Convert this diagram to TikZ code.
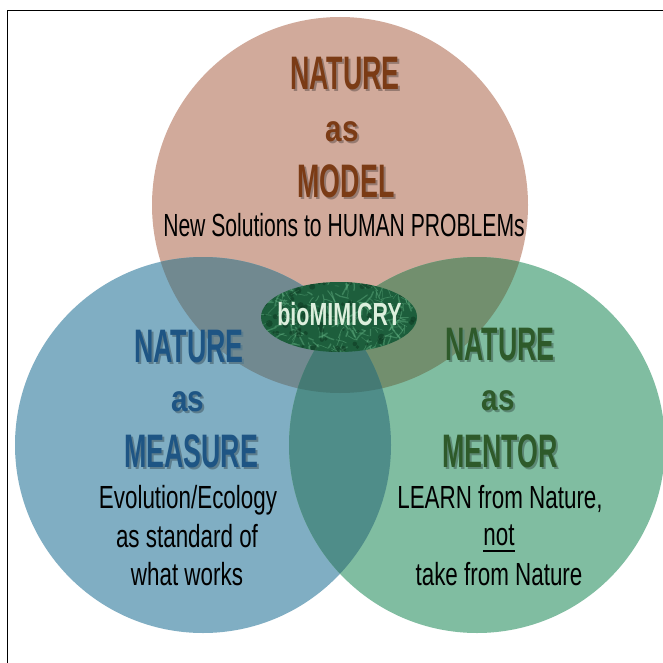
\documentclass[tikz,border=0pt]{standalone}
\usepackage{fontspec}
\usetikzlibrary{shapes.geometric}
\setmainfont{Liberation Sans}
\newfontfamily\headfont{Liberation Sans}[FakeStretch=0.57]
\newfontfamily\smallheadfont{Liberation Sans}[FakeStretch=0.8]
\newfontfamily\bodyfont{Liberation Sans}[FakeStretch=0.7]
\newfontfamily\narrowbodyfont{Liberation Sans}[FakeStretch=0.66]
\newfontfamily\badgefont{Liberation Sans}[FakeStretch=0.67]

% circle fills and their overlaps
\definecolor{modelfill}{HTML}{D1AA9B}
\definecolor{measurefill}{HTML}{80AEC3}
\definecolor{mentorfill}{HTML}{80BDA1}
\definecolor{modelmeasure}{HTML}{718990}
\definecolor{modelmentor}{HTML}{728F6E}
\definecolor{measurementor}{HTML}{4F8D89}
\definecolor{allthree}{HTML}{457A74}
% heading colours
\definecolor{modelhead}{HTML}{7B3B15}
\definecolor{measurehead}{HTML}{1E5584}
\definecolor{mentorhead}{HTML}{2E5A2A}
% badge
\definecolor{badgefill}{HTML}{1D5E3C}
\definecolor{badgevein}{HTML}{62B283}
\definecolor{badgedark}{HTML}{0C351F}
\definecolor{badgetext}{HTML}{DDEFDD}

\tikzset{
  headtext/.style={anchor=base, inner sep=0pt, font=\headfont\bfseries\fontsize{47}{47}\selectfont},
  astext/.style={anchor=base, inner sep=0pt, font=\smallheadfont\bfseries\fontsize{37}{37}\selectfont},
  bodytext/.style={anchor=base, inner sep=0pt, text=black, font=\bodyfont\fontsize{32}{32}\selectfont},
}

% heading word set over its own soft drop shadow, as one box
\newcommand\shadowed[3]{%
  \makebox[0pt][l]{\hspace{2pt}\raisebox{-2pt}{\color{#2}#3}}{\color{#1}#3}}

\begin{document}
\begin{tikzpicture}[x=1pt,y=-1pt]
\useasboundingbox (0,0) rectangle (663,663);
\fill[white] (0,0) rectangle (663,663);

% circle centres
\coordinate (cModel) at (340,205);
\coordinate (cMeasure) at (203,445);
\coordinate (cMentor) at (477,445);
\def\rad{188pt}

% the three discs
\fill[modelfill] (cModel) circle[radius=\rad];
\fill[measurefill] (cMeasure) circle[radius=\rad];
\fill[mentorfill] (cMentor) circle[radius=\rad];

% pairwise overlaps
\begin{scope}
  \clip (cModel) circle[radius=\rad];
  \fill[modelmeasure] (cMeasure) circle[radius=\rad];
  \fill[modelmentor] (cMentor) circle[radius=\rad];
\end{scope}
\begin{scope}
  \clip (cMeasure) circle[radius=\rad];
  \fill[measurementor] (cMentor) circle[radius=\rad];
  \clip (cModel) circle[radius=\rad];
  \fill[allthree] (cMentor) circle[radius=\rad];
\end{scope}

% frame
\coordinate (frameBL) at (7.5,663);
\coordinate (frameTL) at (7.5,10.5);
\coordinate (frameTR) at (663,10.5);
\draw[line width=1.6pt] (frameBL) -- (frameTL) -- (frameTR);

% top circle text
\node[headtext] (modelA) at (345,90) {\shadowed{modelhead}{modelfill!72!black}{NATURE}};
\node[astext] (modelB) at (342,142) {\shadowed{modelhead}{modelfill!72!black}{as}};
\node[headtext] (modelC) at (346,197) {\shadowed{modelhead}{modelfill!72!black}{MODEL}};
\node[bodytext, font=\narrowbodyfont\fontsize{32}{32}\selectfont] (modelD) at (344,236) {New Solutions to HUMAN PROBLEMs};

% left circle text
\node[headtext] (measureA) at (189,362) {\shadowed{measurehead}{measurefill!72!black}{NATURE}};
\node[astext] (measureB) at (188,411) {\shadowed{measurehead}{measurefill!72!black}{as}};
\node[headtext] (measureC) at (191,467) {\shadowed{measurehead}{measurefill!72!black}{MEASURE}};
\node[bodytext] (measureD) at (188,508) {Evolution/Ecology};
\node[bodytext] (measureE) at (187,547) {as standard of};
\node[bodytext] (measureF) at (187,585) {what works};

% right circle text
\node[headtext] (mentorA) at (500,360) {\shadowed{mentorhead}{mentorfill!72!black}{NATURE}};
\node[astext] (mentorB) at (498,410) {\shadowed{mentorhead}{mentorfill!72!black}{as}};
\node[headtext] (mentorC) at (500,467) {\shadowed{mentorhead}{mentorfill!72!black}{MENTOR}};
\node[bodytext] (mentorD) at (500,508) {LEARN from Nature,};
\node[bodytext] (mentorE) at (499,545) {not};
\draw[line width=1.3pt] (mentorE.base west) ++(0,6) coordinate (ulA) -- (mentorE.base east |- ulA);
\node[bodytext] (mentorF) at (499,585) {take from Nature};

% central marbled badge
\node[ellipse, minimum width=156pt, minimum height=70pt, inner sep=0pt, fill=badgefill] (badge) at (339,317) {};
\begin{scope}
  \clip (339,317) ellipse[x radius=78pt, y radius=35pt];
  \pgfmathsetseed{17}
  \foreach \i in {1,...,260}{
    \pgfmathsetmacro\px{258+162*rnd}
    \pgfmathsetmacro\py{280+74*rnd}
    \pgfmathsetmacro\ang{360*rnd}
    \pgfmathsetmacro\len{2+7*rnd}
    \pgfmathsetmacro\wid{0.4+1.1*rnd}
    \draw[badgevein, opacity=0.45, line width=\wid pt, line cap=round]
      (\px,\py) -- ++(\ang:\len pt) -- ++(\ang+40*rnd-20:0.6*\len pt);
  }
  \foreach \i in {1,...,90}{
    \pgfmathsetmacro\px{258+162*rnd}
    \pgfmathsetmacro\py{280+74*rnd}
    \pgfmathsetmacro\sz{1+2.5*rnd}
    \fill[badgedark, opacity=0.5] (\px,\py) circle[radius=\sz pt];
  }
\end{scope}
\node[anchor=base, inner sep=0pt, text=badgetext, font=\badgefont\bfseries\fontsize{32}{32}\selectfont] (badgeLabel) at (339.5,325) {bioMIMICRY};
\end{tikzpicture}
\end{document}
